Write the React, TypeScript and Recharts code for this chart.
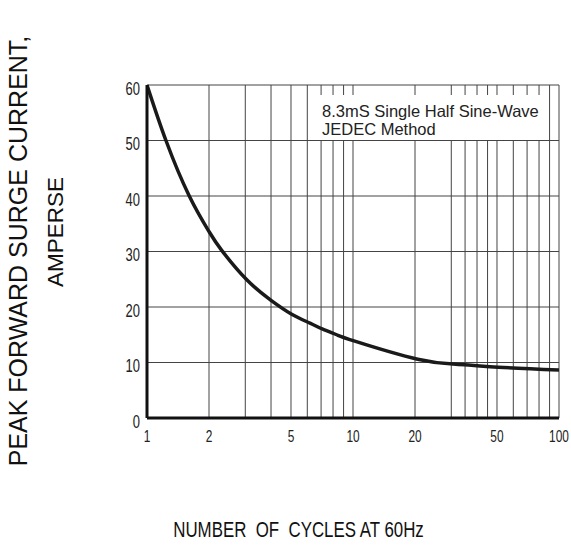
import React from "react";
import { LineChart, Line, XAxis, YAxis, CartesianGrid, ReferenceLine } from "recharts";

const cycles = [1, 1.236, 1.604, 2.0, 2.305, 3.05, 4.0, 5.04, 6.18, 7.13, 8.33, 10.2, 20.6, 31.6, 46.2, 100];
const surge = [60, 50, 40, 33.6, 30.2, 24.9, 21.2, 18.7, 17.1, 16.0, 15.0, 13.85, 10.6, 9.7, 9.25, 8.65];
const xTicks = [1, 2, 5, 10, 20, 50, 100];
const yTicks = [0, 10, 20, 30, 40, 50, 60];
const xGrid = [2, 3, 4, 5, 6, 7, 8, 9, 10, 20, 30, 35, 40, 45, 50, 60, 70, 80, 90, 100];
const legendLines = ["8.3mS Single Half Sine-Wave", "JEDEC Method"];

const data = cycles.map((x, i) => ({ x, y: surge[i] }));

const FONT = "'Liberation Sans', Arial, sans-serif";

const XTick = (props: any) => {
  const { x, y, payload } = props;
  return (
    <text
      transform={`translate(${x},${y + 24}) scale(0.7,1)`}
      textAnchor="middle"
      fontSize={17}
      fontFamily={FONT}
      fill="#222"
    >
      {payload.value}
    </text>
  );
};

const YTick = (props: any) => {
  const { x, y, payload } = props;
  return (
    <text
      transform={`translate(${x - 7},${y + 9.5}) scale(0.72,1)`}
      textAnchor="end"
      fontSize={18}
      fontFamily={FONT}
      fill="#222"
    >
      {payload.value}
    </text>
  );
};

const XTitle = () => (
  <text
    transform="translate(298.5,537) scale(0.785,1)"
    textAnchor="middle"
    fontSize={21.5}
    fontFamily={FONT}
    fill="#111"
    xmlSpace="preserve"
    style={{ whiteSpace: "pre" }}
  >
    {"NUMBER  OF  CYCLES AT 60Hz"}
  </text>
);

const YTitle = () => (
  <g>
    <text
      transform="translate(27,251) rotate(-90)"
      textAnchor="middle"
      fontSize={25}
      fontFamily={FONT}
      fill="#111"
    >
      PEAK FORWARD SURGE CURRENT,
    </text>
    <text
      transform="translate(63,232) rotate(-90)"
      textAnchor="middle"
      fontSize={22.5}
      fontFamily={FONT}
      fill="#111"
    >
      AMPERSE
    </text>
  </g>
);

export default function App() {
  return (
    <div style={{ position: "absolute", left: 0, top: 0, width: 571, height: 547, background: "#fff" }}>
      <LineChart width={571} height={547} data={data} margin={{ top: 85, right: 12, left: 0, bottom: 0 }}>
        <CartesianGrid vertical={false} stroke="#444" strokeWidth={1} />
        {xGrid.map((v) => (
          <ReferenceLine key={v} x={v} stroke="#444" strokeWidth={1} />
        ))}
        <XAxis
          dataKey="x"
          type="number"
          scale="log"
          domain={[1, 100]}
          ticks={xTicks}
          allowDataOverflow
          height={129}
          tickLine={false}
          tickSize={0}
          tickMargin={0}
          axisLine={{ stroke: "#111", strokeWidth: 3 }}
          tick={<XTick />}
          interval={0}
          label={<XTitle />}
        />
        <YAxis
          type="number"
          domain={[0, 60]}
          ticks={yTicks}
          width={147}
          tickLine={false}
          tickSize={0}
          tickMargin={0}
          axisLine={{ stroke: "#111", strokeWidth: 3 }}
          tick={<YTick />}
          interval={0}
          label={<YTitle />}
        />
        <Line
          dataKey="y"
          type="natural"
          stroke="#1a1a1a"
          strokeWidth={3.5}
          dot={false}
          isAnimationActive={false}
        />
      </LineChart>
      <div
        style={{
          position: "absolute",
          left: 313,
          top: 95,
          width: 231,
          height: 45,
          background: "#fff",
          fontFamily: FONT,
          fontSize: 16.5,
          color: "#222",
          lineHeight: "18px",
          paddingLeft: 9,
          paddingTop: 7,
          boxSizing: "border-box",
          whiteSpace: "nowrap",
        }}
      >
        {legendLines.map((t) => (
          <div key={t}>{t}</div>
        ))}
      </div>
    </div>
  );
}
